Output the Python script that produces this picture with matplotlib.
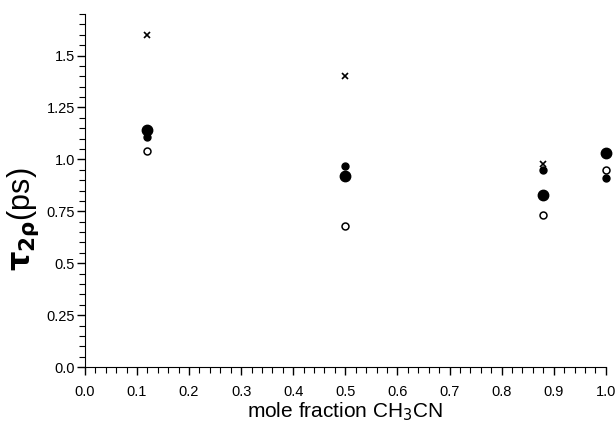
import matplotlib.pyplot as plt
from matplotlib.ticker import MultipleLocator

x_cross = [0.12, 0.50, 0.88]
y_cross = [1.60, 1.40, 0.98]

x_big = [0.12, 0.50, 0.88, 1.00]
y_big = [1.14, 0.92, 0.83, 1.03]

x_small = [0.12, 0.50, 0.88, 1.00]
y_small = [1.11, 0.97, 0.95, 0.91]

x_open = [0.12, 0.50, 0.88, 1.00]
y_open = [1.04, 0.68, 0.73, 0.95]

plt.rcParams['font.family'] = ['Liberation Sans', 'DejaVu Sans']

fig = plt.figure(figsize=(6.15, 4.36), dpi=100)
ax = fig.add_axes([0.138, 0.158, 0.847, 0.81])

ax.plot(x_cross, y_cross, 'x', color='black', ms=4, mew=1.2, clip_on=False)
ax.plot(x_big, y_big, 'o', color='black', ms=7.5, clip_on=False)
ax.plot(x_small, y_small, 'o', color='black', ms=5, clip_on=False)
ax.plot(x_open, y_open, 'o', mfc='white', mec='black', ms=5, mew=1.1, clip_on=False)

ax.set_xlim(0, 1.0)
ax.set_ylim(0, 1.7)
ax.spines['top'].set_visible(False)
ax.spines['right'].set_visible(False)

ax.set_xticks([0.0, 0.1, 0.2, 0.3, 0.4, 0.5, 0.6, 0.7, 0.8, 0.9, 1.0])
ax.set_xticklabels(['0.0', '0.1', '0.2', '0.3', '0.4', '0.5', '0.6', '0.7', '0.8', '0.9', '1.0'])
ax.xaxis.set_minor_locator(MultipleLocator(0.02))
ax.set_yticks([0.0, 0.25, 0.5, 0.75, 1.0, 1.25, 1.5])
ax.set_yticklabels(['0.0', '0.25', '0.5', '0.75', '1.0', '1.25', '1.5'])
ax.yaxis.set_minor_locator(MultipleLocator(0.05))
ax.tick_params(which='major', length=6, width=1, labelsize=10.5)
ax.tick_params(which='minor', length=4, width=0.8)
ax.tick_params(axis='x', which='major', pad=7)
ax.tick_params(axis='y', which='major', pad=1)

ax.set_xlabel('mole fraction CH$_3$CN', fontsize=15, labelpad=1)
ax.set_ylabel(r'$\mathbf{\tau}_{\mathbf{2\rho}}$(ps)', fontsize=22)
ax.yaxis.set_label_coords(-0.085, 0.42)

fig.savefig('out.png', dpi=100)
